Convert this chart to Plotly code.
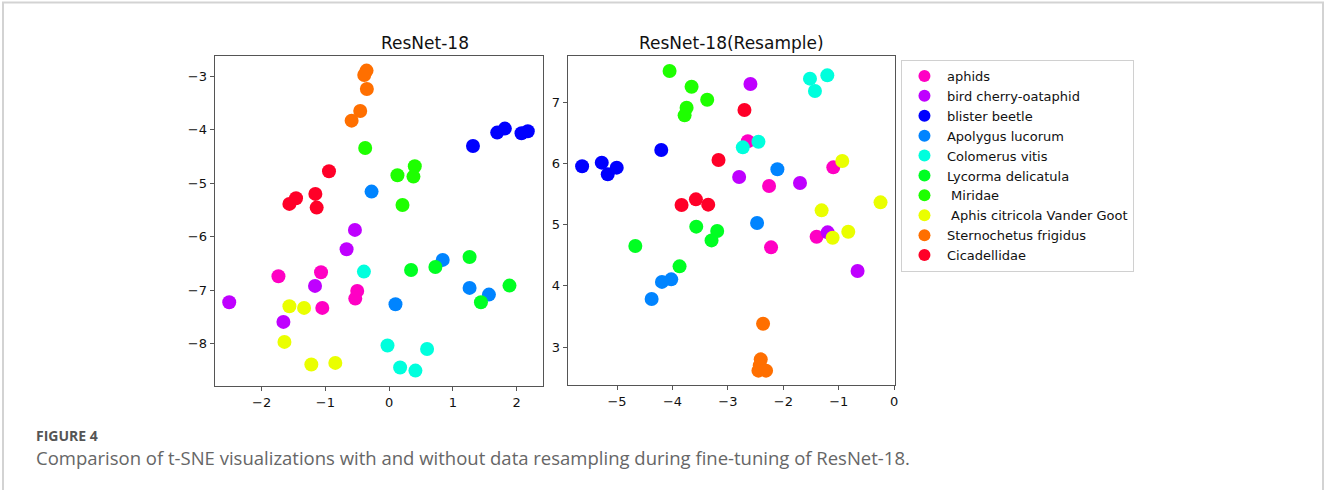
import plotly.graph_objects as go

W, H = 1327, 490

classes = ["aphids", "bird cherry-oataphid", "blister beetle", "Apolygus lucorum",
           "Colomerus vitis", "Lycorma delicatula", "\u00a0Miridae",
           "\u00a0Aphis citricola Vander Goot", "Sternochetus frigidus", "Cicadellidae"]
colors = ["#ff00c4", "#bf00ff", "#0000ff", "#0084ff", "#00ffdd",
          "#00ff22", "#1eff00", "#eaff00", "#ff6f00", "#ff0028"]

# Left panel: ResNet-18
left_x = [
    [-1.737, -1.069, -0.501, -0.532, -1.049],   # aphids
    [-0.537, -0.668, -1.163, -2.509, -1.659],   # bird cherry-oataphid
    [1.315, 1.695, 1.815, 2.076, 2.175],        # blister beetle
    [-0.276, 0.840, 1.262, 1.565, 0.099],       # Apolygus lucorum
    [-0.396, -0.026, 0.595, 0.172, 0.412],      # Colomerus vitis
    [1.262, 0.344, 0.725, 1.888, 1.440],        # Lycorma delicatula
    [-0.376, 0.402, 0.130, 0.381, 0.209],       # Miridae
    [-1.565, -1.335, -1.643, -1.221, -0.845],   # Aphis citricola
    [-0.355, -0.391, -0.350, -0.454, -0.589],   # Sternochetus frigidus
    [-0.944, -1.158, -1.137, -1.461, -1.565],   # Cicadellidae
]
left_y = [
    [-6.738, -6.664, -7.012, -7.156, -7.330],
    [-5.872, -6.234, -6.919, -7.224, -7.592],
    [-4.302, -4.053, -3.978, -4.065, -4.028],
    [-5.156, -6.433, -6.956, -7.081, -7.262],
    [-6.651, -8.034, -8.097, -8.445, -8.502],
    [-6.377, -6.620, -6.564, -6.913, -7.224],
    [-4.340, -4.682, -4.850, -4.875, -5.405],
    [-7.299, -7.330, -7.966, -8.389, -8.358],
    [-2.894, -2.975, -3.237, -3.648, -3.829],
    [-4.776, -5.199, -5.455, -5.280, -5.386],
]

# Right panel: ResNet-18(Resample)
right_x = [
    [-2.640, -2.257, -1.098, -1.399, -2.221],
    [-2.593, -2.797, -1.699, -1.200, -0.660],
    [-5.630, -5.276, -5.168, -5.006, -4.202],
    [-2.107, -2.473, -4.022, -4.190, -4.376],
    [-1.519, -1.206, -1.429, -2.731, -2.449],
    [-4.670, -3.872, -3.571, -3.193, -3.295],
    [-4.052, -3.655, -3.373, -3.745, -3.781],
    [-0.936, -0.246, -1.309, -0.828, -1.110],
    [-2.365, -2.407, -2.425, -2.449, -2.311],
    [-2.701, -3.169, -3.836, -3.577, -3.355],
]
right_y = [
    [6.360, 5.629, 5.933, 4.801, 4.627],
    [7.294, 5.776, 5.678, 4.872, 4.241],
    [5.950, 6.010, 5.819, 5.928, 6.216],
    [5.901, 5.024, 4.105, 4.063, 3.784],
    [7.381, 7.435, 7.180, 6.260, 6.352],
    [4.649, 4.317, 4.965, 4.894, 4.741],
    [7.506, 7.250, 7.038, 6.907, 6.782],
    [6.037, 5.362, 5.231, 4.883, 4.785],
    [3.381, 2.799, 2.700, 2.614, 2.614],
    [6.869, 6.053, 5.318, 5.411, 5.324],
]

left_xticks = [-2, -1, 0, 1, 2]
left_yticks = [-8, -7, -6, -5, -4, -3]
right_xticks = [-5, -4, -3, -2, -1, 0]
right_yticks = [3, 4, 5, 6, 7]

fig = go.Figure()
for i, name in enumerate(classes):
    fig.add_trace(go.Scatter(
        x=left_x[i], y=left_y[i], mode="markers", name=name,
        legendgroup=str(i), showlegend=True,
        marker=dict(color=colors[i], size=14, line=dict(width=0)),
        xaxis="x", yaxis="y"))
for i, name in enumerate(classes):
    fig.add_trace(go.Scatter(
        x=right_x[i], y=right_y[i], mode="markers", name=name,
        legendgroup=str(i), showlegend=False,
        marker=dict(color=colors[i], size=14, line=dict(width=0)),
        xaxis="x2", yaxis="y2"))

def px_x(p):
    return p / W

def px_y(p):
    return 1 - p / H

axis_common = dict(
    showline=True, mirror=True, linecolor="#555", linewidth=1,
    ticks="outside", ticklen=4, tickwidth=1, tickcolor="#555",
    showgrid=False, zeroline=False,
    tickfont=dict(family="DejaVu Sans", size=13, color="#111"),
)

fig.update_layout(
    width=W, height=H,
    margin=dict(l=0, r=0, t=0, b=0),
    paper_bgcolor="white", plot_bgcolor="white",
    xaxis=dict(domain=[px_x(215), px_x(544)], range=[-2.74, 2.41],
               tickvals=left_xticks, anchor="y", **axis_common),
    yaxis=dict(domain=[px_y(386), px_y(55.7)], range=[-8.79, -2.615],
               tickvals=left_yticks, anchor="x", **axis_common),
    xaxis2=dict(domain=[px_x(569), px_x(897.3)], range=[-5.89, 0.02],
                tickvals=right_xticks, anchor="y2", **axis_common),
    yaxis2=dict(domain=[px_y(385.3), px_y(55.7)], range=[2.375, 7.756],
                tickvals=right_yticks, anchor="x2", **axis_common),
    legend=dict(
        x=px_x(903), y=px_y(60), xanchor="left", yanchor="top",
        bgcolor="white", bordercolor="#d0d0d0", borderwidth=1,
        font=dict(family="DejaVu Sans", size=13, color="#111"),
        itemsizing="constant", tracegroupgap=0, itemwidth=35,
    ),
    showlegend=True,
    annotations=[
        dict(text="ResNet-18", x=(px_x(215) + px_x(544)) / 2, y=px_y(43),
             xref="paper", yref="paper", showarrow=False, yanchor="middle",
             font=dict(family="DejaVu Sans", size=17, color="#111")),
        dict(text="ResNet-18(Resample)", x=(px_x(569) + px_x(897.3)) / 2, y=px_y(43),
             xref="paper", yref="paper", showarrow=False, yanchor="middle",
             font=dict(family="DejaVu Sans", size=17, color="#111")),
        dict(text="<b>FIGURE 4</b>", x=px_x(34), y=px_y(435),
             xref="paper", yref="paper", showarrow=False, xanchor="left",
             yanchor="middle",
             font=dict(family="Open Sans", size=14, color="#555")),
        dict(text="Comparison of t-SNE visualizations with and without data resampling during fine-tuning of ResNet-18.",
             x=px_x(34), y=px_y(457), xref="paper", yref="paper", showarrow=False,
             xanchor="left", yanchor="middle",
             font=dict(family="Open Sans", size=18.5, color="#666")),
    ],
    shapes=[
        dict(type="rect", xref="paper", yref="paper",
             x0=px_x(3), x1=px_x(1326), y0=-0.05, y1=px_y(2.5),
             line=dict(color="#d3d3d3", width=2), fillcolor="rgba(0,0,0,0)",
             layer="below"),
    ],
)

fig.write_html("out.html")
